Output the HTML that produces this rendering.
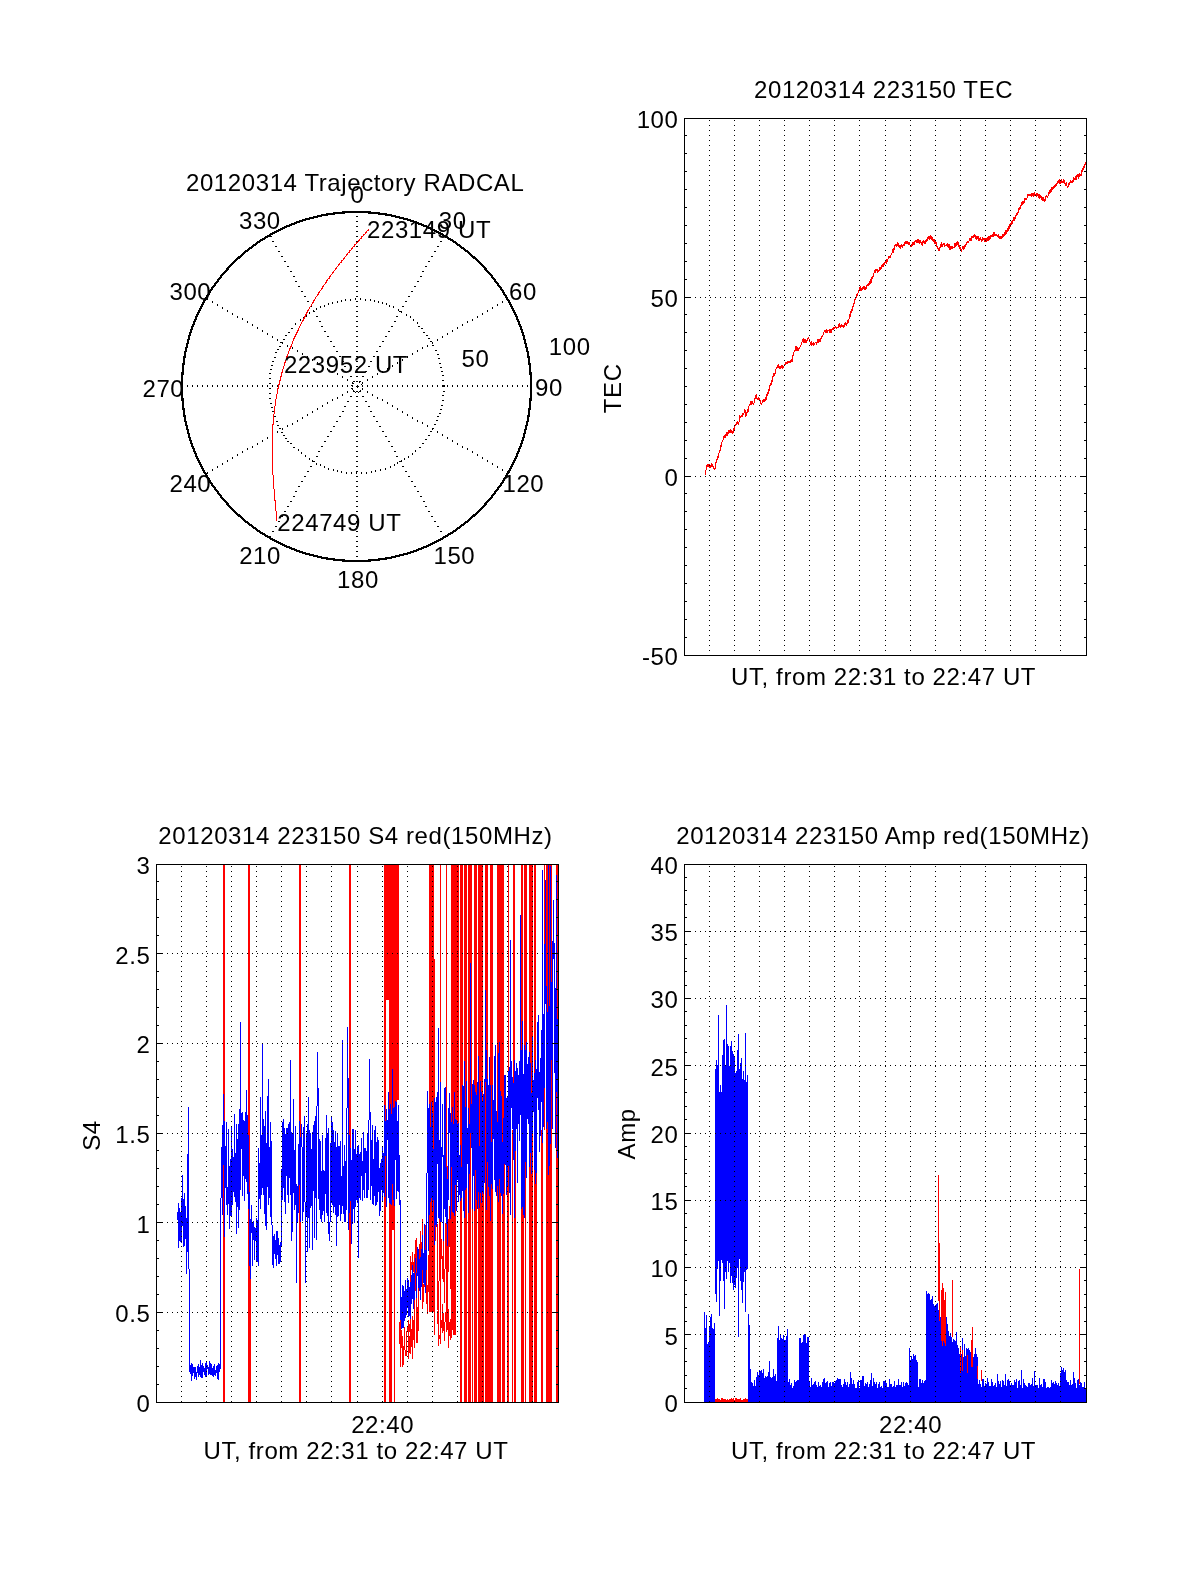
<!DOCTYPE html><html><head><meta charset="utf-8"><style>html,body{margin:0;padding:0;background:#fff;}</style></head><body><svg width="1200" height="1575" viewBox="0 0 1200 1575" style="display:block;will-change:transform;font-family:'Liberation Sans',sans-serif;font-size:24px;letter-spacing:0.6px">
<rect width="1200" height="1575" fill="#fff"/>
<path d="M181.5 372v29M182.5 363v47M183.5 356v19M183.5 398v19M184.5 351v14M184.5 408v14M185.5 347v11M185.5 415v11M186.5 343v9M186.5 421v9M187.5 339v9M187.5 385v2M187.5 425v9M188.5 335v9M188.5 429v9M189.5 332v8M189.5 433v8M190.5 329v7M190.5 437v7M191.5 326v7M191.5 440v7M192.5 324v6M192.5 385v2M192.5 443v6M193.5 321v6M193.5 446v6M194.5 319v6M194.5 448v6M195.5 316v6M195.5 451v6M196.5 314v6M196.5 453v6M197.5 312v5M197.5 385v2M197.5 456v5M198.5 310v5M198.5 458v5M199.5 308v5M199.5 460v5M200.5 306v5M200.5 462v5M201.5 304v5M201.5 464v5M202.5 302v5M202.5 385v2M202.5 466v5M203.5 300v5M203.5 468v5M204.5 299v4M204.5 470v4M205.5 297v4M205.5 472v4M206.5 295v5M206.5 473v5M207.5 294v6M207.5 385v2M207.5 472v2M207.5 475v4M208.5 292v4M208.5 477v4M209.5 290v5M209.5 478v5M210.5 289v4M210.5 480v4M211.5 287v4M211.5 482v4M212.5 286v4M212.5 301v2M212.5 385v2M212.5 469v2M212.5 483v4M213.5 285v3M213.5 485v3M214.5 283v4M214.5 486v4M215.5 282v4M215.5 487v4M216.5 281v3M216.5 489v3M217.5 279v4M217.5 304v2M217.5 385v2M217.5 466v2M217.5 490v4M218.5 278v4M218.5 491v4M219.5 277v3M219.5 493v3M220.5 275v4M220.5 494v4M221.5 274v4M221.5 495v4M222.5 273v3M222.5 307v2M222.5 385v2M222.5 463v2M222.5 497v3M223.5 272v3M223.5 498v3M224.5 271v3M224.5 499v3M225.5 270v3M225.5 500v3M226.5 268v4M226.5 501v4M227.5 267v4M227.5 310v2M227.5 385v2M227.5 460v2M227.5 502v4M228.5 266v4M228.5 503v4M229.5 265v3M229.5 505v3M230.5 264v3M230.5 506v3M231.5 263v3M231.5 507v3M232.5 262v3M232.5 313v2M232.5 385v2M232.5 457v2M232.5 508v3M233.5 261v3M233.5 509v3M234.5 260v3M234.5 510v3M235.5 259v3M235.5 511v3M236.5 258v3M236.5 512v3M237.5 257v3M237.5 316v2M237.5 385v2M237.5 454v2M237.5 513v3M238.5 256v3M238.5 514v3M239.5 256v3M239.5 514v3M240.5 255v3M240.5 515v3M241.5 254v3M241.5 516v3M242.5 253v3M242.5 318v2M242.5 385v2M242.5 451v2M242.5 517v3M243.5 252v3M243.5 518v3M244.5 251v3M244.5 519v3M245.5 250v3M245.5 520v3M246.5 250v2M246.5 521v2M247.5 249v3M247.5 321v2M247.5 385v2M247.5 448v2M247.5 521v3M248.5 248v3M248.5 522v3M249.5 247v3M249.5 523v3M250.5 247v2M250.5 524v2M251.5 246v3M251.5 524v3M252.5 245v3M252.5 324v2M252.5 385v2M252.5 446v2M252.5 525v3M253.5 244v3M253.5 526v3M254.5 244v2M254.5 527v2M255.5 243v3M255.5 527v3M256.5 242v3M256.5 528v3M257.5 241v3M257.5 327v2M257.5 385v2M257.5 443v2M257.5 529v3M258.5 241v2M258.5 530v2M259.5 240v3M259.5 530v3M260.5 239v3M260.5 531v3M261.5 239v2M261.5 532v2M262.5 238v3M262.5 330v2M262.5 385v2M262.5 440v2M262.5 532v3M263.5 238v2M263.5 533v2M264.5 237v3M264.5 533v3M265.5 236v3M265.5 534v3M266.5 236v2M266.5 535v2M267.5 235v3M267.5 333v2M267.5 385v2M267.5 437v2M267.5 535v3M268.5 235v2M268.5 536v2M269.5 234v3M269.5 373v1M269.5 378v1M269.5 383v1M269.5 388v1M269.5 393v1M269.5 398v1M269.5 536v3M270.5 233v4M270.5 369v1M270.5 373v1M270.5 378v1M270.5 383v1M270.5 388v1M270.5 393v1M270.5 398v1M270.5 403v1M270.5 536v4M271.5 233v2M271.5 236v1M271.5 365v1M271.5 369v1M271.5 403v1M271.5 407v1M271.5 538v2M272.5 232v3M272.5 241v1M272.5 336v2M272.5 361v1M272.5 365v1M272.5 385v2M272.5 407v1M272.5 411v1M272.5 434v2M272.5 531v1M272.5 538v3M273.5 232v2M273.5 241v1M273.5 361v1M273.5 411v1M273.5 531v1M273.5 539v2M274.5 231v3M274.5 357v1M274.5 416v1M274.5 539v3M275.5 231v2M275.5 246v1M275.5 352v1M275.5 357v1M275.5 416v1M275.5 526v1M275.5 540v2M276.5 230v3M276.5 246v1M276.5 352v1M276.5 421v1M276.5 526v1M276.5 540v3M277.5 230v2M277.5 339v2M277.5 349v1M277.5 385v2M277.5 421v1M277.5 425v1M277.5 431v2M277.5 541v2M278.5 229v3M278.5 251v1M278.5 349v1M278.5 425v1M278.5 521v1M278.5 541v3M279.5 229v2M279.5 251v1M279.5 346v1M279.5 428v1M279.5 521v1M279.5 542v2M280.5 228v3M280.5 342v1M280.5 346v1M280.5 428v1M280.5 542v3M281.5 228v2M281.5 256v1M281.5 342v1M281.5 432v1M281.5 516v1M281.5 543v2M282.5 227v3M282.5 256v1M282.5 342v2M282.5 385v2M282.5 428v2M282.5 432v1M282.5 516v1M282.5 543v3M283.5 227v2M283.5 339v1M283.5 435v1M283.5 544v2M284.5 226v3M284.5 261v1M284.5 339v1M284.5 435v1M284.5 511v1M284.5 544v3M285.5 226v2M285.5 261v1M285.5 335v1M285.5 438v1M285.5 511v1M285.5 545v2M286.5 225v3M286.5 335v1M286.5 438v1M286.5 545v3M287.5 225v2M287.5 266v1M287.5 345v2M287.5 385v2M287.5 425v2M287.5 441v1M287.5 506v1M287.5 546v2M288.5 225v2M288.5 266v1M288.5 332v1M288.5 441v1M288.5 506v1M288.5 546v2M289.5 224v3M289.5 332v1M289.5 546v3M290.5 224v2M290.5 271v1M290.5 443v1M290.5 501v1M290.5 547v2M291.5 223v3M291.5 271v1M291.5 328v1M291.5 443v1M291.5 501v1M291.5 547v3M292.5 223v2M292.5 328v1M292.5 347v2M292.5 385v2M292.5 423v2M292.5 548v2M293.5 223v2M293.5 276v1M293.5 447v1M293.5 496v1M293.5 548v2M294.5 222v3M294.5 276v1M294.5 447v1M294.5 496v1M294.5 548v3M295.5 222v2M295.5 281v1M295.5 323v2M295.5 491v1M295.5 549v2M296.5 221v3M296.5 281v1M296.5 491v1M296.5 549v3M297.5 221v2M297.5 350v2M297.5 385v2M297.5 420v2M297.5 550v2M298.5 221v2M298.5 286v1M298.5 449v2M298.5 486v1M298.5 550v2M299.5 220v3M299.5 286v1M299.5 486v1M299.5 550v3M300.5 220v2M300.5 319v2M300.5 551v2M301.5 220v2M301.5 291v1M301.5 452v2M301.5 481v1M301.5 551v2M302.5 219v3M302.5 291v1M302.5 353v2M302.5 385v2M302.5 417v2M302.5 481v1M302.5 551v3M303.5 219v2M303.5 317v2M303.5 552v2M304.5 219v2M304.5 296v1M304.5 476v1M304.5 552v2M305.5 218v3M305.5 296v1M305.5 455v2M305.5 476v1M305.5 552v3M306.5 218v2M306.5 315v2M306.5 553v2M307.5 218v2M307.5 301v1M307.5 356v2M307.5 385v2M307.5 414v2M307.5 471v1M307.5 553v2M308.5 218v2M308.5 301v1M308.5 471v1M308.5 553v2M309.5 217v3M309.5 312v2M309.5 458v2M309.5 553v3M310.5 217v2M310.5 306v1M310.5 466v1M310.5 554v2M311.5 217v2M311.5 306v1M311.5 466v1M311.5 554v2M312.5 217v2M312.5 359v2M312.5 385v2M312.5 411v2M312.5 460v2M312.5 554v2M313.5 216v3M313.5 310v2M313.5 461v1M313.5 554v3M314.5 216v2M314.5 311v1M314.5 461v1M314.5 555v2M315.5 216v2M315.5 555v2M316.5 216v2M316.5 308v2M316.5 316v1M316.5 456v1M316.5 463v2M316.5 555v2M317.5 215v3M317.5 316v1M317.5 362v2M317.5 385v2M317.5 408v2M317.5 456v1M317.5 555v3M318.5 215v2M318.5 451v1M318.5 556v2M319.5 215v2M319.5 321v1M319.5 451v1M319.5 556v2M320.5 215v2M320.5 306v2M320.5 321v1M320.5 464v2M320.5 556v2M321.5 214v3M321.5 326v1M321.5 446v1M321.5 556v3M322.5 214v2M322.5 326v1M322.5 365v2M322.5 385v2M322.5 405v2M322.5 446v1M322.5 557v2M323.5 214v2M323.5 557v2M324.5 214v2M324.5 305v2M324.5 331v1M324.5 441v1M324.5 466v2M324.5 557v2M325.5 214v2M325.5 331v1M325.5 441v1M325.5 557v2M326.5 213v3M326.5 557v3M327.5 213v3M327.5 336v1M327.5 368v2M327.5 385v2M327.5 402v2M327.5 436v1M327.5 557v3M328.5 213v2M328.5 303v2M328.5 336v1M328.5 436v1M328.5 468v2M328.5 558v2M329.5 213v2M329.5 558v2M330.5 213v2M330.5 341v1M330.5 431v1M330.5 558v2M331.5 213v2M331.5 341v1M331.5 431v1M331.5 558v2M332.5 213v2M332.5 302v2M332.5 371v2M332.5 385v2M332.5 399v2M332.5 558v2M333.5 212v3M333.5 346v1M333.5 426v1M333.5 469v2M333.5 558v3M334.5 212v3M334.5 346v1M334.5 426v1M334.5 558v3M335.5 212v2M335.5 559v2M336.5 212v2M336.5 351v1M336.5 421v1M336.5 559v2M337.5 212v2M337.5 301v2M337.5 351v1M337.5 373v2M337.5 385v2M337.5 397v2M337.5 421v1M337.5 470v2M337.5 559v2M338.5 212v2M338.5 559v2M339.5 212v2M339.5 356v1M339.5 416v1M339.5 559v2M340.5 212v2M340.5 356v1M340.5 416v1M340.5 559v2M341.5 212v2M341.5 300v2M341.5 471v2M341.5 559v2M342.5 211v3M342.5 361v1M342.5 376v2M342.5 385v2M342.5 394v2M342.5 411v1M342.5 559v3M343.5 211v3M343.5 361v1M343.5 411v1M343.5 559v3M344.5 211v3M344.5 366v1M344.5 406v1M344.5 559v3M345.5 211v2M345.5 299v2M345.5 366v1M345.5 406v1M345.5 560v2M346.5 211v2M346.5 472v2M346.5 560v2M347.5 211v2M347.5 371v1M347.5 379v2M347.5 385v2M347.5 391v2M347.5 401v1M347.5 560v2M348.5 211v2M348.5 371v1M348.5 401v1M348.5 560v2M349.5 211v2M349.5 560v2M350.5 211v2M350.5 299v2M350.5 376v1M350.5 396v1M350.5 560v2M351.5 211v2M351.5 376v1M351.5 385v1M351.5 388v1M351.5 396v1M351.5 472v2M351.5 560v2M352.5 211v2M352.5 382v2M352.5 385v2M352.5 388v2M352.5 560v2M353.5 211v2M353.5 381v1M353.5 383v1M353.5 390v2M353.5 560v2M354.5 211v2M354.5 381v1M354.5 391v1M354.5 560v2M355.5 211v2M355.5 298v2M355.5 392v1M355.5 560v2M356.5 211v2M356.5 216v1M356.5 221v1M356.5 226v1M356.5 231v1M356.5 236v1M356.5 241v1M356.5 246v1M356.5 251v1M356.5 256v1M356.5 261v1M356.5 266v1M356.5 271v1M356.5 276v1M356.5 281v1M356.5 286v1M356.5 291v1M356.5 296v1M356.5 301v1M356.5 306v1M356.5 311v1M356.5 316v1M356.5 321v1M356.5 326v1M356.5 331v1M356.5 336v1M356.5 341v1M356.5 346v1M356.5 351v1M356.5 356v1M356.5 361v1M356.5 366v1M356.5 371v1M356.5 376v1M356.5 381v1M356.5 386v1M356.5 391v1M356.5 396v1M356.5 401v1M356.5 406v1M356.5 411v1M356.5 416v1M356.5 421v1M356.5 426v1M356.5 431v1M356.5 436v1M356.5 441v1M356.5 446v1M356.5 451v1M356.5 456v1M356.5 461v1M356.5 466v1M356.5 471v3M356.5 476v1M356.5 481v1M356.5 486v1M356.5 491v1M356.5 496v1M356.5 501v1M356.5 506v1M356.5 511v1M356.5 516v1M356.5 521v1M356.5 526v1M356.5 531v1M356.5 536v1M356.5 541v1M356.5 546v1M356.5 551v1M356.5 556v1M356.5 560v2M357.5 211v2M357.5 216v1M357.5 221v1M357.5 226v1M357.5 231v1M357.5 236v1M357.5 241v1M357.5 246v1M357.5 251v1M357.5 256v1M357.5 261v1M357.5 266v1M357.5 271v1M357.5 276v1M357.5 281v1M357.5 286v1M357.5 291v1M357.5 296v1M357.5 301v1M357.5 306v1M357.5 311v1M357.5 316v1M357.5 321v1M357.5 326v1M357.5 331v1M357.5 336v1M357.5 341v1M357.5 346v1M357.5 351v1M357.5 356v1M357.5 361v1M357.5 366v1M357.5 371v1M357.5 376v1M357.5 381v1M357.5 385v3M357.5 391v1M357.5 396v1M357.5 401v1M357.5 406v1M357.5 411v1M357.5 416v1M357.5 421v1M357.5 426v1M357.5 431v1M357.5 436v1M357.5 441v1M357.5 446v1M357.5 451v1M357.5 456v1M357.5 461v1M357.5 466v1M357.5 471v1M357.5 476v1M357.5 481v1M357.5 486v1M357.5 491v1M357.5 496v1M357.5 501v1M357.5 506v1M357.5 511v1M357.5 516v1M357.5 521v1M357.5 526v1M357.5 531v1M357.5 536v1M357.5 541v1M357.5 546v1M357.5 551v1M357.5 556v1M357.5 560v2M358.5 211v2M358.5 386v1M358.5 392v1M358.5 560v2M359.5 211v2M359.5 381v2M359.5 391v1M359.5 560v2M360.5 211v2M360.5 298v2M360.5 381v1M360.5 390v2M360.5 560v2M361.5 211v2M361.5 384v1M361.5 472v2M361.5 560v2M362.5 211v2M362.5 376v1M362.5 382v2M362.5 385v2M362.5 388v2M362.5 396v1M362.5 560v2M363.5 211v2M363.5 376v1M363.5 396v1M363.5 560v2M364.5 211v2M364.5 560v2M365.5 211v2M365.5 299v2M365.5 371v1M365.5 401v1M365.5 560v2M366.5 211v2M366.5 371v1M366.5 401v1M366.5 472v2M366.5 560v2M367.5 211v2M367.5 379v2M367.5 385v2M367.5 391v2M367.5 560v2M368.5 211v3M368.5 366v1M368.5 406v1M368.5 559v3M369.5 211v3M369.5 366v1M369.5 406v1M369.5 559v3M370.5 211v3M370.5 299v2M370.5 361v1M370.5 411v1M370.5 559v3M371.5 212v2M371.5 361v1M371.5 411v1M371.5 471v2M371.5 559v2M372.5 212v2M372.5 376v2M372.5 385v2M372.5 394v2M372.5 559v2M373.5 212v2M373.5 356v1M373.5 416v1M373.5 559v2M374.5 212v2M374.5 300v2M374.5 356v1M374.5 416v1M374.5 559v2M375.5 212v2M375.5 470v2M375.5 559v2M376.5 212v2M376.5 351v1M376.5 421v1M376.5 559v2M377.5 212v2M377.5 351v1M377.5 373v2M377.5 385v2M377.5 397v2M377.5 421v1M377.5 559v2M378.5 212v3M378.5 301v2M378.5 558v3M379.5 212v3M379.5 346v1M379.5 426v1M379.5 558v3M380.5 213v2M380.5 346v1M380.5 426v1M380.5 469v2M380.5 558v2M381.5 213v2M381.5 558v2M382.5 213v2M382.5 302v2M382.5 341v1M382.5 371v2M382.5 385v2M382.5 399v2M382.5 431v1M382.5 558v2M383.5 213v2M383.5 341v1M383.5 431v1M383.5 558v2M384.5 213v2M384.5 558v2M385.5 213v3M385.5 336v1M385.5 436v1M385.5 468v2M385.5 557v3M386.5 213v3M386.5 303v2M386.5 336v1M386.5 436v1M386.5 557v3M387.5 214v2M387.5 368v2M387.5 385v2M387.5 402v2M387.5 557v2M388.5 214v2M388.5 331v1M388.5 441v1M388.5 557v2M389.5 214v2M389.5 305v2M389.5 331v1M389.5 441v1M389.5 557v2M390.5 214v2M390.5 466v2M390.5 557v2M391.5 214v3M391.5 326v1M391.5 446v1M391.5 556v3M392.5 215v2M392.5 326v1M392.5 365v2M392.5 385v2M392.5 405v2M392.5 446v1M392.5 556v2M393.5 215v2M393.5 306v2M393.5 556v2M394.5 215v2M394.5 321v1M394.5 451v1M394.5 464v2M394.5 556v2M395.5 215v3M395.5 321v1M395.5 451v1M395.5 555v3M396.5 216v2M396.5 316v1M396.5 456v1M396.5 555v2M397.5 216v2M397.5 316v1M397.5 362v2M397.5 385v2M397.5 408v2M397.5 456v1M397.5 462v2M397.5 555v2M398.5 216v2M398.5 309v2M398.5 555v2M399.5 216v3M399.5 311v1M399.5 461v1M399.5 554v3M400.5 217v2M400.5 311v1M400.5 461v1M400.5 554v2M401.5 217v2M401.5 311v2M401.5 460v2M401.5 554v2M402.5 217v2M402.5 306v1M402.5 359v2M402.5 385v2M402.5 411v2M402.5 466v1M402.5 554v2M403.5 217v3M403.5 306v1M403.5 466v1M403.5 553v3M404.5 218v2M404.5 458v2M404.5 553v2M405.5 218v2M405.5 301v1M405.5 471v1M405.5 553v2M406.5 218v2M406.5 301v1M406.5 314v2M406.5 471v1M406.5 553v2M407.5 218v3M407.5 356v2M407.5 385v2M407.5 414v2M407.5 552v3M408.5 219v2M408.5 296v1M408.5 456v2M408.5 476v1M408.5 552v2M409.5 219v2M409.5 296v1M409.5 476v1M409.5 552v2M410.5 219v3M410.5 316v2M410.5 551v3M411.5 220v2M411.5 291v1M411.5 481v1M411.5 551v2M412.5 220v2M412.5 291v1M412.5 353v2M412.5 385v2M412.5 417v2M412.5 453v2M412.5 481v1M412.5 551v2M413.5 220v3M413.5 319v2M413.5 550v3M414.5 221v2M414.5 286v1M414.5 486v1M414.5 550v2M415.5 221v2M415.5 286v1M415.5 450v2M415.5 486v1M415.5 550v2M416.5 221v3M416.5 549v3M417.5 222v2M417.5 281v1M417.5 322v2M417.5 350v2M417.5 385v2M417.5 420v2M417.5 491v1M417.5 549v2M418.5 222v3M418.5 281v1M418.5 326v1M418.5 491v1M418.5 548v3M419.5 223v2M419.5 326v1M419.5 447v1M419.5 548v2M420.5 223v2M420.5 276v1M420.5 447v1M420.5 496v1M420.5 548v2M421.5 223v3M421.5 276v1M421.5 328v1M421.5 496v1M421.5 547v3M422.5 224v2M422.5 271v1M422.5 328v1M422.5 347v2M422.5 385v2M422.5 422v2M422.5 443v1M422.5 547v2M423.5 224v3M423.5 271v1M423.5 332v1M423.5 443v1M423.5 501v1M423.5 546v3M424.5 225v2M424.5 332v1M424.5 501v1M424.5 546v2M425.5 225v2M425.5 266v1M425.5 439v1M425.5 506v1M425.5 546v2M426.5 225v3M426.5 266v1M426.5 335v1M426.5 439v1M426.5 506v1M426.5 545v3M427.5 226v2M427.5 335v1M427.5 345v2M427.5 385v2M427.5 425v2M427.5 545v2M428.5 226v3M428.5 261v1M428.5 338v1M428.5 435v1M428.5 511v1M428.5 544v3M429.5 227v2M429.5 261v1M429.5 338v1M429.5 435v1M429.5 511v1M429.5 544v2M430.5 227v3M430.5 341v1M430.5 431v1M430.5 543v3M431.5 228v2M431.5 256v1M431.5 341v1M431.5 431v1M431.5 516v1M431.5 543v2M432.5 228v3M432.5 256v1M432.5 342v2M432.5 345v1M432.5 385v2M432.5 428v2M432.5 516v1M432.5 542v3M433.5 229v2M433.5 345v1M433.5 428v1M433.5 542v2M434.5 229v3M434.5 251v1M434.5 424v1M434.5 521v1M434.5 541v3M435.5 230v2M435.5 251v1M435.5 350v1M435.5 424v1M435.5 521v1M435.5 541v2M436.5 230v3M436.5 350v1M436.5 420v1M436.5 540v3M437.5 231v2M437.5 246v1M437.5 339v2M437.5 354v1M437.5 385v2M437.5 416v1M437.5 420v1M437.5 431v2M437.5 526v1M437.5 540v2M438.5 231v3M438.5 246v1M438.5 354v1M438.5 358v1M438.5 416v1M438.5 526v1M438.5 539v3M439.5 232v2M439.5 358v1M439.5 363v1M439.5 413v1M439.5 539v2M440.5 232v3M440.5 241v1M440.5 363v1M440.5 367v1M440.5 409v1M440.5 413v1M440.5 531v1M440.5 538v3M441.5 233v2M441.5 241v1M441.5 367v1M441.5 371v1M441.5 405v1M441.5 409v1M441.5 531v1M441.5 538v2M442.5 233v3M442.5 336v2M442.5 371v1M442.5 375v1M442.5 380v1M442.5 385v2M442.5 395v1M442.5 400v1M442.5 405v1M442.5 434v2M442.5 537v3M443.5 234v3M443.5 375v1M443.5 380v1M443.5 385v2M443.5 391v1M443.5 395v1M443.5 400v1M443.5 536v3M444.5 235v2M444.5 385v2M444.5 391v1M444.5 536v2M445.5 235v3M445.5 535v3M446.5 236v2M446.5 535v2M447.5 236v3M447.5 333v2M447.5 385v2M447.5 437v2M447.5 534v3M448.5 237v3M448.5 533v3M449.5 238v2M449.5 533v2M450.5 238v3M450.5 532v3M451.5 239v2M451.5 532v2M452.5 239v3M452.5 330v2M452.5 385v2M452.5 440v2M452.5 531v3M453.5 240v3M453.5 530v3M454.5 241v2M454.5 530v2M455.5 241v3M455.5 529v3M456.5 242v3M456.5 528v3M457.5 243v3M457.5 327v2M457.5 385v2M457.5 443v2M457.5 527v3M458.5 244v2M458.5 527v2M459.5 244v3M459.5 526v3M460.5 245v3M460.5 525v3M461.5 246v3M461.5 524v3M462.5 247v2M462.5 324v2M462.5 385v2M462.5 446v2M462.5 524v2M463.5 247v3M463.5 523v3M464.5 248v3M464.5 522v3M465.5 249v3M465.5 521v3M466.5 250v2M466.5 521v2M467.5 250v3M467.5 321v2M467.5 385v2M467.5 448v2M467.5 520v3M468.5 251v3M468.5 519v3M469.5 252v3M469.5 518v3M470.5 253v3M470.5 517v3M471.5 254v3M471.5 516v3M472.5 255v3M472.5 319v2M472.5 385v2M472.5 451v2M472.5 515v3M473.5 256v3M473.5 514v3M474.5 256v3M474.5 514v3M475.5 257v3M475.5 513v3M476.5 258v3M476.5 512v3M477.5 259v3M477.5 316v2M477.5 385v2M477.5 454v2M477.5 511v3M478.5 260v3M478.5 510v3M479.5 261v3M479.5 509v3M480.5 262v3M480.5 508v3M481.5 263v3M481.5 507v3M482.5 264v3M482.5 313v2M482.5 385v2M482.5 457v2M482.5 506v3M483.5 265v3M483.5 505v3M484.5 266v4M484.5 503v4M485.5 267v4M485.5 502v4M486.5 268v4M486.5 501v4M487.5 270v3M487.5 310v2M487.5 385v2M487.5 460v2M487.5 500v3M488.5 271v3M488.5 499v3M489.5 272v3M489.5 498v3M490.5 273v3M490.5 497v3M491.5 274v4M491.5 495v4M492.5 275v4M492.5 307v2M492.5 385v2M492.5 463v2M492.5 494v4M493.5 277v3M493.5 493v3M494.5 278v4M494.5 491v4M495.5 279v4M495.5 490v4M496.5 281v3M496.5 489v3M497.5 282v4M497.5 304v2M497.5 385v2M497.5 466v2M497.5 487v4M498.5 283v4M498.5 486v4M499.5 285v3M499.5 485v3M500.5 286v4M500.5 483v4M501.5 287v4M501.5 482v4M502.5 289v4M502.5 301v2M502.5 385v2M502.5 469v2M502.5 480v4M503.5 290v5M503.5 478v5M504.5 292v4M504.5 477v4M505.5 294v4M505.5 475v4M506.5 295v5M506.5 473v5M507.5 297v4M507.5 385v2M507.5 471v5M508.5 299v4M508.5 470v4M509.5 300v5M509.5 468v5M510.5 302v5M510.5 466v5M511.5 304v5M511.5 464v5M512.5 306v5M512.5 385v2M512.5 462v5M513.5 308v5M513.5 460v5M514.5 310v5M514.5 458v5M515.5 312v5M515.5 456v5M516.5 314v6M516.5 453v6M517.5 316v6M517.5 385v2M517.5 451v6M518.5 319v6M518.5 448v6M519.5 321v6M519.5 446v6M520.5 324v6M520.5 443v6M521.5 326v7M521.5 440v7M522.5 329v7M522.5 385v2M522.5 437v7M523.5 332v8M523.5 433v8M524.5 335v9M524.5 429v9M525.5 339v9M525.5 425v9M526.5 343v9M526.5 421v9M527.5 347v11M527.5 385v2M527.5 415v11M528.5 351v14M528.5 408v14M529.5 356v19M529.5 398v19M530.5 363v47M531.5 372v29" stroke="#000" stroke-width="1" fill="none" shape-rendering="crispEdges"/>
<path d="M272.5 424v51M273.5 414v11M273.5 475v14M274.5 406v8M274.5 489v12M275.5 399v7M275.5 500v11M276.5 394v5M276.5 511v10M277.5 388v6M278.5 384v5M279.5 380v5M280.5 376v5M281.5 372v5M282.5 369v4M283.5 366v3M284.5 362v4M285.5 360v3M286.5 356v4M287.5 354v3M288.5 351v3M289.5 348v3M290.5 346v3M291.5 344v3M292.5 341v3M293.5 338v3M294.5 336v3M295.5 334v3M296.5 332v3M297.5 330v3M298.5 328v3M299.5 326v2M300.5 324v2M301.5 322v2M302.5 320v2M303.5 318v3M304.5 316v3M305.5 314v3M306.5 312v3M307.5 310v3M308.5 309v2M309.5 307v2M310.5 306v1M311.5 304v2M312.5 302v2M313.5 300v3M314.5 299v2M315.5 297v2M316.5 296v1M317.5 294v2M318.5 292v3M319.5 291v2M320.5 290v1M321.5 288v2M322.5 286v3M323.5 285v2M324.5 284v1M325.5 282v2M326.5 280v3M327.5 279v2M328.5 278v1M329.5 276v3M330.5 275v2M331.5 274v1M332.5 272v2M333.5 271v2M334.5 270v1M335.5 268v2M336.5 267v2M337.5 266v1M338.5 264v2M339.5 263v2M340.5 262v1M341.5 260v3M342.5 260v1M343.5 258v2M344.5 257v2M345.5 256v1M346.5 254v2M347.5 253v2M348.5 252v1M349.5 250v3M350.5 250v1M351.5 248v2M352.5 247v2M353.5 246v1M354.5 244v3M355.5 244v1M356.5 242v2M357.5 242v1M358.5 240v2M359.5 239v2M360.5 238v1M361.5 236v3M362.5 236v1M363.5 234v2M364.5 234v1M365.5 232v2M366.5 231v2M367.5 230v1M368.5 229v2" stroke="#f00" stroke-width="1" fill="none" shape-rendering="crispEdges"/>
<g fill="#000">
<text x="355.2" y="190.7" text-anchor="middle">20120314 Trajectory RADCAL</text>
<text x="357.4" y="202.9" text-anchor="middle">0</text>
<text x="259.9" y="228.6" text-anchor="middle">330</text>
<text x="452.7" y="229.0" text-anchor="middle">30</text>
<text x="190.4" y="299.9" text-anchor="middle">300</text>
<text x="523.0" y="300.0" text-anchor="middle">60</text>
<text x="569.7" y="355.3" text-anchor="middle">100</text>
<text x="475.4" y="366.8" text-anchor="middle">50</text>
<text x="163.4" y="396.5" text-anchor="middle">270</text>
<text x="549.0" y="395.7" text-anchor="middle">90</text>
<text x="190.4" y="491.6" text-anchor="middle">240</text>
<text x="523.4" y="491.6" text-anchor="middle">120</text>
<text x="260.1" y="563.5" text-anchor="middle">210</text>
<text x="454.4" y="563.5" text-anchor="middle">150</text>
<text x="358.0" y="587.9" text-anchor="middle">180</text>
<text x="429.1" y="237.9" text-anchor="middle">223149 UT</text>
<text x="346.0" y="372.5" text-anchor="middle">223952 UT</text>
<text x="339.4" y="530.9" text-anchor="middle">224749 UT</text>
</g>
<path d="M705.5 470v5M706.5 465v5M707.5 464v3M708.5 464v3M709.5 464v4M710.5 465v3M711.5 463v4M712.5 464v3M713.5 466v3M714.5 468v2M715.5 462v7M716.5 459v4M717.5 456v4M718.5 453v5M719.5 450v3M720.5 445v6M721.5 442v5M722.5 440v2M723.5 436v4M724.5 435v3M725.5 434v4M726.5 432v4M727.5 432v4M728.5 430v4M729.5 430v3M730.5 429v4M731.5 430v3M732.5 431v3M733.5 428v5M734.5 426v4M735.5 424v2M736.5 422v3M737.5 421v3M738.5 422v3M739.5 415v7M740.5 416v2M741.5 415v2M742.5 413v4M743.5 413v2M744.5 409v4M745.5 410v7M746.5 412v4M747.5 409v4M748.5 406v6M749.5 404v2M750.5 401v4M751.5 401v4M752.5 401v3M753.5 403v2M754.5 398v5M755.5 395v4M756.5 394v5M757.5 398v2M758.5 397v3M759.5 398v2M760.5 400v4M761.5 403v2M762.5 400v3M763.5 399v3M764.5 399v3M765.5 397v4M766.5 394v6M767.5 392v4M768.5 389v5M769.5 385v6M770.5 383v3M771.5 380v5M772.5 376v6M773.5 373v4M774.5 373v3M775.5 369v5M776.5 367v2M777.5 365v3M778.5 364v4M779.5 366v3M780.5 366v3M781.5 365v3M782.5 365v4M783.5 366v2M784.5 364v2M785.5 362v3M786.5 362v2M787.5 361v3M788.5 361v2M789.5 361v2M790.5 360v3M791.5 359v3M792.5 355v7M793.5 352v4M794.5 350v2M795.5 346v5M796.5 346v5M797.5 347v4M798.5 348v3M799.5 347v2M800.5 345v2M801.5 342v3M802.5 339v3M803.5 338v5M804.5 339v4M805.5 339v4M806.5 340v3M807.5 338v3M808.5 337v2M809.5 339v3M810.5 342v3M811.5 341v5M812.5 343v2M813.5 342v4M814.5 343v2M815.5 342v1M816.5 342v3M817.5 339v4M818.5 339v4M819.5 339v3M820.5 338v4M821.5 336v3M822.5 335v2M823.5 332v3M824.5 330v2M825.5 330v3M826.5 329v4M827.5 330v3M828.5 330v1M829.5 329v4M830.5 329v4M831.5 329v4M832.5 328v2M833.5 327v3M834.5 327v2M835.5 326v2M836.5 327v2M837.5 327v1M838.5 324v4M839.5 323v4M840.5 325v3M841.5 324v3M842.5 325v2M843.5 325v3M844.5 323v4M845.5 322v3M846.5 323v3M847.5 320v4M848.5 319v4M849.5 314v5M850.5 311v6M851.5 309v4M852.5 306v5M853.5 303v4M854.5 299v5M855.5 297v3M856.5 294v4M857.5 293v3M858.5 290v3M859.5 287v4M860.5 286v5M861.5 288v3M862.5 287v3M863.5 286v3M864.5 286v4M865.5 287v3M866.5 285v4M867.5 284v2M868.5 283v3M869.5 281v4M870.5 279v5M871.5 277v6M872.5 276v3M873.5 273v4M874.5 270v3M875.5 269v4M876.5 269v2M877.5 269v4M878.5 270v2M879.5 267v4M880.5 267v3M881.5 265v4M882.5 264v3M883.5 263v4M884.5 262v3M885.5 260v3M886.5 259v5M887.5 259v3M888.5 256v3M889.5 256v2M890.5 255v3M891.5 253v2M892.5 249v4M893.5 248v5M894.5 245v5M895.5 244v2M896.5 244v3M897.5 242v4M898.5 243v4M899.5 245v3M900.5 245v4M901.5 244v3M902.5 245v3M903.5 244v2M904.5 242v4M905.5 241v3M906.5 241v3M907.5 241v3M908.5 242v3M909.5 242v3M910.5 245v2M911.5 244v3M912.5 242v4M913.5 242v3M914.5 241v4M915.5 240v2M916.5 240v3M917.5 239v4M918.5 239v4M919.5 240v4M920.5 240v3M921.5 242v3M922.5 241v5M923.5 240v3M924.5 241v3M925.5 240v4M926.5 239v3M927.5 237v4M928.5 236v3M929.5 236v4M930.5 235v4M931.5 236v4M932.5 237v4M933.5 239v3M934.5 239v5M935.5 241v3M936.5 242v5M937.5 246v3M938.5 248v3M939.5 247v4M940.5 244v4M941.5 242v5M942.5 244v3M943.5 243v2M944.5 243v4M945.5 245v1M946.5 244v2M947.5 243v4M948.5 244v4M949.5 244v6M950.5 246v4M951.5 246v3M952.5 246v3M953.5 247v1M954.5 243v5M955.5 243v4M956.5 242v4M957.5 241v4M958.5 242v5M959.5 245v4M960.5 247v4M961.5 249v3M962.5 246v3M963.5 246v4M964.5 245v4M965.5 244v3M966.5 242v3M967.5 241v2M968.5 241v2M969.5 238v3M970.5 238v3M971.5 236v5M972.5 236v2M973.5 235v3M974.5 234v3M975.5 235v4M976.5 236v4M977.5 236v3M978.5 236v5M979.5 238v3M980.5 237v3M981.5 239v3M982.5 237v4M983.5 238v2M984.5 238v4M985.5 238v4M986.5 238v4M987.5 237v4M988.5 236v5M989.5 236v4M990.5 235v4M991.5 235v2M992.5 234v3M993.5 232v5M994.5 232v4M995.5 234v2M996.5 234v2M997.5 235v2M998.5 234v4M999.5 236v3M1000.5 236v3M1001.5 236v3M1002.5 234v4M1003.5 234v3M1004.5 232v4M1005.5 230v5M1006.5 230v4M1007.5 228v4M1008.5 226v5M1009.5 224v5M1010.5 223v4M1011.5 221v4M1012.5 220v4M1013.5 217v4M1014.5 217v4M1015.5 215v4M1016.5 213v3M1017.5 212v3M1018.5 208v5M1019.5 207v3M1020.5 205v4M1021.5 202v4M1022.5 201v4M1023.5 201v3M1024.5 198v5M1025.5 198v2M1026.5 198v2M1027.5 194v4M1028.5 194v2M1029.5 194v2M1030.5 194v2M1031.5 193v4M1032.5 193v3M1033.5 193v4M1034.5 192v4M1035.5 194v2M1036.5 193v4M1037.5 193v3M1038.5 194v4M1039.5 194v5M1040.5 195v3M1041.5 196v4M1042.5 197v4M1043.5 197v4M1044.5 199v3M1045.5 196v5M1046.5 195v2M1047.5 196v2M1048.5 192v4M1049.5 190v4M1050.5 189v4M1051.5 187v5M1052.5 187v3M1053.5 186v3M1054.5 185v3M1055.5 184v3M1056.5 183v3M1057.5 181v3M1058.5 180v3M1059.5 179v5M1060.5 180v4M1061.5 179v4M1062.5 181v2M1063.5 179v4M1064.5 180v4M1065.5 183v3M1066.5 182v4M1067.5 186v2M1068.5 183v4M1069.5 182v3M1070.5 180v3M1071.5 181v2M1072.5 180v3M1073.5 177v5M1074.5 178v2M1075.5 176v4M1076.5 175v5M1077.5 174v3M1078.5 174v5M1079.5 173v4M1080.5 174v2M1081.5 170v6M1082.5 168v4M1083.5 166v4M1084.5 164v4M1085.5 162v3" stroke="#f00" stroke-width="1" fill="none" shape-rendering="crispEdges"/>
<path d="M709.5 120V655" stroke="#000" stroke-dasharray="1 4" stroke-dashoffset="0" shape-rendering="crispEdges"/>
<path d="M734.5 120V655" stroke="#000" stroke-dasharray="1 4" stroke-dashoffset="0" shape-rendering="crispEdges"/>
<path d="M759.5 120V655" stroke="#000" stroke-dasharray="1 4" stroke-dashoffset="0" shape-rendering="crispEdges"/>
<path d="M784.5 120V655" stroke="#000" stroke-dasharray="1 4" stroke-dashoffset="0" shape-rendering="crispEdges"/>
<path d="M809.5 120V655" stroke="#000" stroke-dasharray="1 4" stroke-dashoffset="0" shape-rendering="crispEdges"/>
<path d="M834.5 120V655" stroke="#000" stroke-dasharray="1 4" stroke-dashoffset="0" shape-rendering="crispEdges"/>
<path d="M859.5 120V655" stroke="#000" stroke-dasharray="1 4" stroke-dashoffset="0" shape-rendering="crispEdges"/>
<path d="M885.5 120V655" stroke="#000" stroke-dasharray="1 4" stroke-dashoffset="0" shape-rendering="crispEdges"/>
<path d="M910.5 120V655" stroke="#000" stroke-dasharray="1 4" stroke-dashoffset="0" shape-rendering="crispEdges"/>
<path d="M935.5 120V655" stroke="#000" stroke-dasharray="1 4" stroke-dashoffset="0" shape-rendering="crispEdges"/>
<path d="M960.5 120V655" stroke="#000" stroke-dasharray="1 4" stroke-dashoffset="0" shape-rendering="crispEdges"/>
<path d="M985.5 120V655" stroke="#000" stroke-dasharray="1 4" stroke-dashoffset="0" shape-rendering="crispEdges"/>
<path d="M1010.5 120V655" stroke="#000" stroke-dasharray="1 4" stroke-dashoffset="0" shape-rendering="crispEdges"/>
<path d="M1035.5 120V655" stroke="#000" stroke-dasharray="1 4" stroke-dashoffset="0" shape-rendering="crispEdges"/>
<path d="M1060.5 120V655" stroke="#000" stroke-dasharray="1 4" stroke-dashoffset="0" shape-rendering="crispEdges"/>
<path d="M695 297.5H1082" stroke="#000" stroke-dasharray="1 4" stroke-dashoffset="0" shape-rendering="crispEdges"/>
<path d="M695 476.5H1082" stroke="#000" stroke-dasharray="1 4" stroke-dashoffset="0" shape-rendering="crispEdges"/>
<path d="M684 297.5h7M1087 297.5h-7M684 476.5h7M1087 476.5h-7M684 135.5h3M1087 135.5h-3M684 153.5h3M1087 153.5h-3M684 171.5h3M1087 171.5h-3M684 189.5h3M1087 189.5h-3M684 207.5h3M1087 207.5h-3M684 225.5h3M1087 225.5h-3M684 243.5h3M1087 243.5h-3M684 261.5h3M1087 261.5h-3M684 279.5h3M1087 279.5h-3M684 297.5h3M1087 297.5h-3M684 314.5h3M1087 314.5h-3M684 332.5h3M1087 332.5h-3M684 350.5h3M1087 350.5h-3M684 368.5h3M1087 368.5h-3M684 386.5h3M1087 386.5h-3M684 404.5h3M1087 404.5h-3M684 422.5h3M1087 422.5h-3M684 440.5h3M1087 440.5h-3M684 458.5h3M1087 458.5h-3M684 476.5h3M1087 476.5h-3M684 493.5h3M1087 493.5h-3M684 511.5h3M1087 511.5h-3M684 529.5h3M1087 529.5h-3M684 547.5h3M1087 547.5h-3M684 565.5h3M1087 565.5h-3M684 583.5h3M1087 583.5h-3M684 601.5h3M1087 601.5h-3M684 619.5h3M1087 619.5h-3M684 637.5h3M1087 637.5h-3M684.5 118V656M1086.5 118V656M684 118.5H1087M684 655.5H1087" stroke="#000" stroke-width="1" fill="none" shape-rendering="crispEdges"/>
<g fill="#000">
<text x="883.6" y="97.8" text-anchor="middle">20120314 223150 TEC</text>
<text x="678.5" y="665.4" text-anchor="end">-50</text>
<text x="678.5" y="486.4" text-anchor="end">0</text>
<text x="678.5" y="307.4" text-anchor="end">50</text>
<text x="678.5" y="128.4" text-anchor="end">100</text>
<text x="0" y="0" text-anchor="middle" transform="translate(620.5,388.3) rotate(-90)">TEC</text>
<text x="883.6" y="684.7" text-anchor="middle">UT, from 22:31 to 22:47 UT</text>
</g>
<path d="M223.5 865v537M224.5 865v537M248.5 865v537M249.5 865v537M250.5 1265v137M299.5 865v537M300.5 865v537M349.5 865v537M350.5 865v537M384.5 865v537M385.5 865v537M386.5 865v135M387.5 865v135M388.5 865v135M389.5 865v537M390.5 865v537M391.5 865v537M392.5 865v365M393.5 865v365M394.5 865v537M395.5 865v285M396.5 865v285M397.5 865v235M398.5 865v235M399.5 1322v22M400.5 1318v49M401.5 1330v18M402.5 1336v31M403.5 1346v19M404.5 1327v23M405.5 1350v6M406.5 1331v25M407.5 1326v5M408.5 1320v39M409.5 1324v8M409.5 1336v17M410.5 1256v98M411.5 1262v8M411.5 1329v18M412.5 1252v46M412.5 1316v43M413.5 1262v10M413.5 1320v20M414.5 1254v94M415.5 1240v51M416.5 1238v105M417.5 1307v36M418.5 1259v72M419.5 1244v26M420.5 1231v66M421.5 1242v22M422.5 1219v90M423.5 1284v18M424.5 1245v42M425.5 1225v27M426.5 1252v52M427.5 1285v29M428.5 1255v37M429.5 865v447M430.5 865v447M431.5 865v447M432.5 865v447M433.5 865v447M434.5 959v376M435.5 1128v113M436.5 1155v69M437.5 1224v86M437.5 1311v13M438.5 1281v65M439.5 1142v139M439.5 1335v4M440.5 865v479M441.5 1239v20M441.5 1320v8M442.5 1256v23M442.5 1304v29M443.5 1233v49M443.5 1313v18M444.5 1269v34M444.5 1322v19M445.5 1223v46M445.5 1312v10M446.5 865v467M447.5 1166v164M448.5 1219v53M448.5 1309v39M449.5 1206v41M449.5 1322v14M450.5 1218v71M450.5 1319v21M451.5 865v473M452.5 865v465M453.5 865v470M454.5 865v470M455.5 865v470M456.5 865v265M457.5 865v265M458.5 865v265M460.5 865v537M461.5 865v537M462.5 865v265M464.5 865v537M465.5 865v537M466.5 865v537M468.5 865v537M469.5 865v537M470.5 865v537M471.5 865v265M472.5 1130v272M474.5 865v537M475.5 865v537M476.5 865v537M478.5 865v537M479.5 865v537M480.5 865v537M481.5 865v537M482.5 865v537M483.5 1130v272M485.5 865v537M486.5 865v537M487.5 865v537M488.5 1130v272M489.5 1130v272M490.5 865v537M491.5 865v537M492.5 865v537M497.5 865v537M498.5 865v537M499.5 865v537M500.5 865v537M501.5 865v265M502.5 865v537M503.5 865v537M504.5 1130v272M507.5 1130v272M508.5 865v537M512.5 1130v272M513.5 865v265M514.5 865v537M515.5 1130v272M521.5 865v537M522.5 865v537M523.5 1130v272M524.5 865v265M525.5 865v537M526.5 865v265M529.5 865v537M530.5 865v537M531.5 865v537M532.5 865v537M534.5 865v537M535.5 865v537M536.5 1130v272M541.5 1130v272M542.5 1130v272M544.5 865v265M546.5 865v537M547.5 865v537M548.5 865v537M549.5 865v537M550.5 865v537M551.5 865v537M556.5 865v537M557.5 865v537" stroke="#f00" stroke-width="1" fill="none" shape-rendering="crispEdges"/>
<path d="M177.5 1212v8M178.5 1203v45M179.5 1208v33M180.5 1212v30M181.5 1198v45M182.5 1175v51M183.5 1199v48M184.5 1193v53M185.5 1206v33M186.5 1218v56M187.5 1154v98M188.5 1107v162M189.5 1269v103M190.5 1365v9M191.5 1363v18M192.5 1364v12M193.5 1367v6M194.5 1367v12M195.5 1367v10M196.5 1372v8M197.5 1366v7M198.5 1364v13M199.5 1367v8M200.5 1360v17M201.5 1365v13M202.5 1363v15M203.5 1366v6M204.5 1368v7M205.5 1363v14M206.5 1362v14M207.5 1365v4M208.5 1367v8M209.5 1361v13M210.5 1363v12M211.5 1364v11M212.5 1368v8M213.5 1366v11M214.5 1364v11M215.5 1370v6M216.5 1366v7M217.5 1365v14M218.5 1363v17M219.5 1364v8M220.5 1198v171M221.5 1147v51M222.5 1125v90M223.5 1094v71M224.5 1121v116M225.5 1146v42M226.5 1122v83M227.5 1187v28M228.5 1129v75M229.5 1166v63M230.5 1159v57M231.5 1127v89M232.5 1149v56M233.5 1157v35M234.5 1114v83M235.5 1153v49M236.5 1124v110M237.5 1139v68M238.5 1124v104M239.5 1109v101M240.5 1022v168M241.5 1113v36M242.5 1112v84M243.5 1120v56M244.5 1121v80M245.5 1112v67M246.5 1090v92M247.5 1115v79M248.5 1135v74M249.5 1192v74M250.5 1219v60M251.5 1205v28M252.5 1223v43M253.5 1221v19M254.5 1227v33M255.5 1228v13M256.5 1218v43M257.5 1220v42M258.5 1148v118M259.5 1163v36M260.5 1097v112M261.5 1135v60M262.5 1043v145M263.5 1119v76M264.5 1126v88M265.5 1111v115M266.5 1143v87M267.5 1096v91M268.5 1079v126M269.5 1147v51M270.5 1122v95M271.5 1141v84M272.5 1225v40M273.5 1236v32M274.5 1234v20M275.5 1240v19M276.5 1231v35M277.5 1231v24M278.5 1238v26M279.5 1245v19M280.5 1242v20M281.5 1169v77M282.5 1122v78M283.5 1119v69M284.5 1128v74M285.5 1134v80M286.5 1128v48M287.5 1128v67M288.5 1124v79M289.5 1122v56M290.5 1060v135M291.5 1132v109M292.5 1134v98M293.5 1099v94M294.5 1150v60M295.5 1126v79M296.5 1184v99M297.5 1186v37M298.5 1144v69M299.5 1121v64M300.5 1137v85M301.5 1124v23M302.5 1147v74M303.5 1127v85M304.5 1116v86M305.5 1202v81M306.5 1133v83M307.5 1124v128M308.5 1097v121M309.5 1130v118M310.5 1133v75M311.5 1149v57M312.5 1132v118M313.5 1125v66M314.5 1121v117M315.5 1116v82M316.5 1106v134M317.5 1052v54M318.5 1088v111M319.5 1139v71M320.5 1141v78M321.5 1171v51M322.5 1135v80M323.5 1170v41M324.5 1171v51M325.5 1138v56M326.5 1115v98M327.5 1133v83M328.5 1128v106M329.5 1222v19M330.5 1143v79M331.5 1117v86M332.5 1122v83M333.5 1130v83M334.5 1142v65M335.5 1131v84M336.5 1147v99M337.5 1133v84M338.5 1146v70M339.5 1146v59M340.5 1141v80M341.5 1176v38M342.5 1040v166M343.5 1166v48M344.5 1145v77M345.5 1161v61M346.5 1108v102M347.5 1027v81M348.5 1078v152M349.5 1135v78M350.5 1148v53M351.5 1160v84M352.5 1129v95M353.5 1129v80M354.5 1149v74M355.5 1130v77M356.5 1154v46M357.5 1146v57M358.5 1145v113M359.5 1154v44M360.5 1152v48M361.5 1138v38M362.5 1161v40M363.5 1132v58M364.5 1148v50M365.5 1148v25M366.5 1151v47M367.5 1134v64M368.5 1120v70M369.5 1059v61M370.5 1112v88M371.5 1140v46M372.5 1125v79M373.5 1159v46M374.5 1130v66M375.5 1126v80M376.5 1142v63M377.5 1137v65M378.5 1140v52M379.5 1168v48M380.5 1163v48M381.5 1159v31M382.5 1147v54M383.5 1153v40M384.5 1105v92M385.5 1121v35M386.5 1109v98M387.5 1120v20M388.5 1092v106M389.5 1109v94M390.5 1104v100M391.5 1114v91M392.5 1069v115M393.5 1108v92M394.5 1107v99M395.5 1101v59M396.5 1102v97M397.5 1121v70M398.5 1105v87M399.5 1155v50M400.5 1200v120M401.5 1297v32M402.5 1285v43M403.5 1286v42M404.5 1291v30M405.5 1280v38M406.5 1289v26M407.5 1278v30M408.5 1280v37M409.5 1287v29M410.5 1282v37M411.5 1275v29M412.5 1265v34M413.5 1273v36M414.5 1273v27M415.5 1258v15M416.5 1273v25M417.5 1247v29M418.5 1249v39M419.5 1259v32M420.5 1257v43M421.5 1249v38M422.5 1235v35M423.5 1253v30M424.5 1224v61M425.5 1250v43M426.5 1173v97M427.5 1091v82M428.5 1108v143M429.5 1104v111M430.5 1127v75M431.5 1102v96M432.5 1113v98M433.5 1149v51M434.5 1098v147M435.5 1102v123M436.5 1097v130M437.5 1092v72M438.5 1028v190M439.5 1140v79M440.5 1082v140M441.5 1147v75M442.5 1104v53M443.5 1155v86M444.5 1088v121M445.5 1087v130M446.5 1167v57M447.5 1179v67M448.5 1108v92M449.5 1093v40M450.5 1113v106M451.5 1122v45M452.5 1107v105M453.5 1124v89M454.5 1092v124M455.5 1119v66M456.5 1120v91M457.5 1124v56M458.5 1123v79M459.5 1155v40M460.5 1145v56M461.5 1167v31M462.5 1085v106M463.5 1086v125M464.5 1061v157M465.5 1107v83M466.5 1081v107M467.5 1128v36M468.5 1108v105M469.5 1124v50M470.5 963v170M471.5 1104v44M472.5 1084v125M473.5 1080v96M474.5 1085v126M475.5 1092v78M476.5 1095v105M477.5 1082v127M478.5 1056v136M479.5 1146v62M480.5 1081v112M481.5 1092v111M482.5 1101v91M483.5 1094v100M484.5 1079v104M485.5 990v92M486.5 1050v160M487.5 1079v83M488.5 1085v102M489.5 1057v139M490.5 1085v136M491.5 1142v42M492.5 1085v104M493.5 1100v39M494.5 1056v124M495.5 1045v147M496.5 1111v85M497.5 1122v64M498.5 1053v149M499.5 1042v137M500.5 1091v102M501.5 1096v100M502.5 1142v72M503.5 1118v76M504.5 1075v89M505.5 1075v90M506.5 1098v97M507.5 1096v90M508.5 1071v95M509.5 1067v126M510.5 940v275M511.5 1061v47M512.5 1077v52M513.5 1083v77M514.5 1060v158M515.5 1071v80M516.5 1063v66M517.5 1068v115M518.5 1075v49M519.5 1061v80M520.5 915v200M521.5 1050v159M522.5 1021v186M523.5 1074v141M524.5 1045v173M525.5 1050v112M526.5 1042v136M527.5 1064v55M528.5 1057v67M529.5 1052v115M530.5 1063v90M531.5 1093v81M532.5 1037v96M533.5 1080v32M534.5 1073v97M535.5 1060v124M536.5 1069v104M537.5 1022v76M538.5 1015v95M539.5 1072v80M540.5 1058v78M541.5 1030v72M542.5 870v273M543.5 1014v113M544.5 944v144M545.5 880v124M546.5 986v143M547.5 1012v110M548.5 865v310M549.5 1006v160M550.5 866v278M551.5 982v78M552.5 941v188M553.5 900v59M554.5 943v130M555.5 988v160M556.5 875v217M557.5 1019v139" stroke="#00f" stroke-width="1" fill="none" shape-rendering="crispEdges"/>
<path d="M181.5 866V1402" stroke="#000" stroke-dasharray="1 4" stroke-dashoffset="0" shape-rendering="crispEdges"/>
<path d="M206.5 866V1402" stroke="#000" stroke-dasharray="1 4" stroke-dashoffset="0" shape-rendering="crispEdges"/>
<path d="M231.5 866V1402" stroke="#000" stroke-dasharray="1 4" stroke-dashoffset="0" shape-rendering="crispEdges"/>
<path d="M256.5 866V1402" stroke="#000" stroke-dasharray="1 4" stroke-dashoffset="0" shape-rendering="crispEdges"/>
<path d="M281.5 866V1402" stroke="#000" stroke-dasharray="1 4" stroke-dashoffset="0" shape-rendering="crispEdges"/>
<path d="M306.5 866V1402" stroke="#000" stroke-dasharray="1 4" stroke-dashoffset="0" shape-rendering="crispEdges"/>
<path d="M331.5 866V1402" stroke="#000" stroke-dasharray="1 4" stroke-dashoffset="0" shape-rendering="crispEdges"/>
<path d="M357.5 866V1402" stroke="#000" stroke-dasharray="1 4" stroke-dashoffset="0" shape-rendering="crispEdges"/>
<path d="M382.5 866V1402" stroke="#000" stroke-dasharray="1 4" stroke-dashoffset="0" shape-rendering="crispEdges"/>
<path d="M407.5 866V1402" stroke="#000" stroke-dasharray="1 4" stroke-dashoffset="0" shape-rendering="crispEdges"/>
<path d="M432.5 866V1402" stroke="#000" stroke-dasharray="1 4" stroke-dashoffset="0" shape-rendering="crispEdges"/>
<path d="M457.5 866V1402" stroke="#000" stroke-dasharray="1 4" stroke-dashoffset="0" shape-rendering="crispEdges"/>
<path d="M482.5 866V1402" stroke="#000" stroke-dasharray="1 4" stroke-dashoffset="0" shape-rendering="crispEdges"/>
<path d="M507.5 866V1402" stroke="#000" stroke-dasharray="1 4" stroke-dashoffset="0" shape-rendering="crispEdges"/>
<path d="M532.5 866V1402" stroke="#000" stroke-dasharray="1 4" stroke-dashoffset="0" shape-rendering="crispEdges"/>
<path d="M167 953.5H554" stroke="#000" stroke-dasharray="1 4" stroke-dashoffset="0" shape-rendering="crispEdges"/>
<path d="M167 1043.5H554" stroke="#000" stroke-dasharray="1 4" stroke-dashoffset="0" shape-rendering="crispEdges"/>
<path d="M167 1133.5H554" stroke="#000" stroke-dasharray="1 4" stroke-dashoffset="0" shape-rendering="crispEdges"/>
<path d="M167 1222.5H554" stroke="#000" stroke-dasharray="1 4" stroke-dashoffset="0" shape-rendering="crispEdges"/>
<path d="M167 1312.5H554" stroke="#000" stroke-dasharray="1 4" stroke-dashoffset="0" shape-rendering="crispEdges"/>
<path d="M156 953.5h7M559 953.5h-7M156 1043.5h7M559 1043.5h-7M156 1133.5h7M559 1133.5h-7M156 1222.5h7M559 1222.5h-7M156 1312.5h7M559 1312.5h-7M156 881.5h3M559 881.5h-3M156 899.5h3M559 899.5h-3M156 917.5h3M559 917.5h-3M156 935.5h3M559 935.5h-3M156 953.5h3M559 953.5h-3M156 971.5h3M559 971.5h-3M156 989.5h3M559 989.5h-3M156 1007.5h3M559 1007.5h-3M156 1025.5h3M559 1025.5h-3M156 1043.5h3M559 1043.5h-3M156 1061.5h3M559 1061.5h-3M156 1079.5h3M559 1079.5h-3M156 1097.5h3M559 1097.5h-3M156 1115.5h3M559 1115.5h-3M156 1133.5h3M559 1133.5h-3M156 1150.5h3M559 1150.5h-3M156 1168.5h3M559 1168.5h-3M156 1186.5h3M559 1186.5h-3M156 1204.5h3M559 1204.5h-3M156 1222.5h3M559 1222.5h-3M156 1240.5h3M559 1240.5h-3M156 1258.5h3M559 1258.5h-3M156 1276.5h3M559 1276.5h-3M156 1294.5h3M559 1294.5h-3M156 1312.5h3M559 1312.5h-3M156 1330.5h3M559 1330.5h-3M156 1348.5h3M559 1348.5h-3M156 1366.5h3M559 1366.5h-3M156 1384.5h3M559 1384.5h-3M156.5 864V1403M558.5 864V1403M156 864.5H559M156 1402.5H559" stroke="#000" stroke-width="1" fill="none" shape-rendering="crispEdges"/>
<g fill="#000">
<text x="355.5" y="843.6" text-anchor="middle">20120314 223150 S4 red(150MHz)</text>
<text x="150.5" y="1412.0" text-anchor="end">0</text>
<text x="150.5" y="1322.3" text-anchor="end">0.5</text>
<text x="150.5" y="1232.7" text-anchor="end">1</text>
<text x="150.5" y="1143.0" text-anchor="end">1.5</text>
<text x="150.5" y="1053.3" text-anchor="end">2</text>
<text x="150.5" y="963.7" text-anchor="end">2.5</text>
<text x="150.5" y="874.0" text-anchor="end">3</text>
<text x="0" y="0" text-anchor="middle" transform="translate(99.6,1135.5) rotate(-90)">S4</text>
<text x="382.7" y="1432.5" text-anchor="middle">22:40</text>
<text x="356.0" y="1459.2" text-anchor="middle">UT, from 22:31 to 22:47 UT</text>
</g>
<path d="M704.5 1312v90M705.5 1328v74M706.5 1315v87M707.5 1344v58M708.5 1342v60M709.5 1327v75M710.5 1317v85M711.5 1314v88M712.5 1328v74M713.5 1329v73M714.5 1323v79M715.5 1069v225M716.5 1060v242M717.5 1065v204M718.5 1015v246M719.5 1092v224M720.5 1085v196M721.5 1092v168M722.5 1055v208M723.5 1040v241M724.5 1039v270M725.5 1065v207M726.5 1005v274M727.5 1044v217M728.5 1046v226M729.5 1066v197M730.5 1046v237M731.5 1041v235M732.5 1051v232M733.5 1054v236M734.5 1056v229M735.5 1073v215M736.5 1071v207M737.5 1050v218M738.5 1034v303M739.5 1069v190M740.5 1063v218M741.5 1058v232M742.5 1079v224M743.5 1071v211M744.5 1080v192M745.5 1033v279M746.5 1082v188M747.5 1075v194M748.5 1314v88M749.5 1325v77M750.5 1369v33M751.5 1382v20M752.5 1383v19M753.5 1386v16M754.5 1380v22M755.5 1386v16M756.5 1377v25M757.5 1372v30M758.5 1375v27M759.5 1370v32M760.5 1371v31M761.5 1370v32M762.5 1373v29M763.5 1369v33M764.5 1378v24M765.5 1376v26M766.5 1377v25M767.5 1376v26M768.5 1372v30M769.5 1361v41M770.5 1377v25M771.5 1378v24M772.5 1377v25M773.5 1369v33M774.5 1376v26M775.5 1374v28M776.5 1381v21M777.5 1338v64M778.5 1326v76M779.5 1340v62M780.5 1335v67M781.5 1338v64M782.5 1339v63M783.5 1335v67M784.5 1340v62M785.5 1340v62M786.5 1336v66M787.5 1329v73M788.5 1382v20M789.5 1379v23M790.5 1385v17M791.5 1383v19M792.5 1388v14M793.5 1386v16M794.5 1380v22M795.5 1382v20M796.5 1381v21M797.5 1380v22M798.5 1380v22M799.5 1338v64M800.5 1338v64M801.5 1343v59M802.5 1342v60M803.5 1335v67M804.5 1334v68M805.5 1334v68M806.5 1343v59M807.5 1337v65M808.5 1337v65M809.5 1382v20M810.5 1387v15M811.5 1378v24M812.5 1385v17M813.5 1384v18M814.5 1382v20M815.5 1381v21M816.5 1385v17M817.5 1387v15M818.5 1382v20M819.5 1386v16M820.5 1385v17M821.5 1387v15M822.5 1382v20M823.5 1379v23M824.5 1378v24M825.5 1383v19M826.5 1382v20M827.5 1381v21M828.5 1387v15M829.5 1383v19M830.5 1382v20M831.5 1386v16M832.5 1382v20M833.5 1382v20M834.5 1383v19M835.5 1381v21M836.5 1380v22M837.5 1378v24M838.5 1379v23M839.5 1379v23M840.5 1379v23M841.5 1385v17M842.5 1387v15M843.5 1384v18M844.5 1379v23M845.5 1382v20M846.5 1385v17M847.5 1382v20M848.5 1387v15M849.5 1384v18M850.5 1372v30M851.5 1378v24M852.5 1384v18M853.5 1380v22M854.5 1384v18M855.5 1388v14M856.5 1388v14M857.5 1382v20M858.5 1380v22M859.5 1388v14M860.5 1380v22M861.5 1380v22M862.5 1376v26M863.5 1376v26M864.5 1386v16M865.5 1383v19M866.5 1384v18M867.5 1382v20M868.5 1387v15M869.5 1384v18M870.5 1380v22M871.5 1373v29M872.5 1386v16M873.5 1378v24M874.5 1382v20M875.5 1384v18M876.5 1382v20M877.5 1388v14M878.5 1384v18M879.5 1382v20M880.5 1387v15M881.5 1386v16M882.5 1388v14M883.5 1381v21M884.5 1381v21M885.5 1380v22M886.5 1383v19M887.5 1387v15M888.5 1387v15M889.5 1379v23M890.5 1384v18M891.5 1384v18M892.5 1387v15M893.5 1386v16M894.5 1381v21M895.5 1387v15M896.5 1385v17M897.5 1385v17M898.5 1379v23M899.5 1385v17M900.5 1385v17M901.5 1382v20M902.5 1387v15M903.5 1382v20M904.5 1386v16M905.5 1383v19M906.5 1382v20M907.5 1383v19M908.5 1385v17M909.5 1348v54M910.5 1360v42M911.5 1356v46M912.5 1359v43M913.5 1354v48M914.5 1356v46M915.5 1355v47M916.5 1360v42M917.5 1362v40M918.5 1387v15M919.5 1379v23M920.5 1379v23M921.5 1383v19M922.5 1380v22M923.5 1383v19M924.5 1381v21M925.5 1380v22M926.5 1291v111M927.5 1294v108M928.5 1293v109M929.5 1294v108M930.5 1300v102M931.5 1299v103M932.5 1296v106M933.5 1304v98M934.5 1306v96M935.5 1305v97M936.5 1304v98M937.5 1303v99M938.5 1310v92M939.5 1311v91M940.5 1317v85M941.5 1313v89M942.5 1317v85M943.5 1325v77M944.5 1323v79M945.5 1323v79M946.5 1317v85M947.5 1324v78M948.5 1331v71M949.5 1336v66M950.5 1333v69M951.5 1337v65M952.5 1342v60M953.5 1339v63M954.5 1340v62M955.5 1341v61M956.5 1332v70M957.5 1345v57M958.5 1348v54M959.5 1354v48M960.5 1356v46M961.5 1354v48M962.5 1338v64M963.5 1357v45M964.5 1344v58M965.5 1356v46M966.5 1348v54M967.5 1349v53M968.5 1348v54M969.5 1350v52M970.5 1352v50M971.5 1357v45M972.5 1342v60M973.5 1357v45M974.5 1354v48M975.5 1348v54M976.5 1354v48M977.5 1357v45M978.5 1384v18M979.5 1380v22M980.5 1384v18M981.5 1387v15M982.5 1379v23M983.5 1379v23M984.5 1386v16M985.5 1383v19M986.5 1384v18M987.5 1378v24M988.5 1382v20M989.5 1386v16M990.5 1386v16M991.5 1379v23M992.5 1382v20M993.5 1386v16M994.5 1385v17M995.5 1383v19M996.5 1387v15M997.5 1374v28M998.5 1381v21M999.5 1384v18M1000.5 1381v21M1001.5 1387v15M1002.5 1380v22M1003.5 1381v21M1004.5 1385v17M1005.5 1374v28M1006.5 1386v16M1007.5 1380v22M1008.5 1379v23M1009.5 1381v21M1010.5 1385v17M1011.5 1383v19M1012.5 1385v17M1013.5 1385v17M1014.5 1380v22M1015.5 1382v20M1016.5 1379v23M1017.5 1388v14M1018.5 1381v21M1019.5 1380v22M1020.5 1385v17M1021.5 1370v32M1022.5 1388v14M1023.5 1379v23M1024.5 1383v19M1025.5 1385v17M1026.5 1386v16M1027.5 1387v15M1028.5 1383v19M1029.5 1383v19M1030.5 1385v17M1031.5 1384v18M1032.5 1378v24M1033.5 1386v16M1034.5 1371v31M1035.5 1385v17M1036.5 1385v17M1037.5 1385v17M1038.5 1388v14M1039.5 1378v24M1040.5 1385v17M1041.5 1384v18M1042.5 1387v15M1043.5 1379v23M1044.5 1379v23M1045.5 1382v20M1046.5 1388v14M1047.5 1387v15M1048.5 1387v15M1049.5 1388v14M1050.5 1387v15M1051.5 1380v22M1052.5 1383v19M1053.5 1382v20M1054.5 1384v18M1055.5 1381v21M1056.5 1383v19M1057.5 1385v17M1058.5 1383v19M1059.5 1386v16M1060.5 1373v29M1061.5 1367v35M1062.5 1370v32M1063.5 1368v34M1064.5 1372v30M1065.5 1370v32M1066.5 1380v22M1067.5 1382v20M1068.5 1382v20M1069.5 1385v17M1070.5 1380v22M1071.5 1385v17M1072.5 1384v18M1073.5 1372v30M1074.5 1378v24M1075.5 1383v19M1076.5 1388v14M1077.5 1380v22M1078.5 1379v23M1079.5 1385v17M1080.5 1382v20M1081.5 1383v19M1082.5 1387v15M1083.5 1387v15M1084.5 1382v20M1085.5 1388v14" stroke="#00f" stroke-width="1" fill="none" shape-rendering="crispEdges"/>
<path d="M715.5 1399v3M716.5 1399v3M717.5 1398v4M718.5 1399v3M719.5 1399v3M720.5 1400v2M721.5 1398v4M722.5 1398v4M723.5 1399v3M724.5 1399v3M725.5 1399v3M726.5 1400v2M727.5 1399v3M728.5 1400v2M729.5 1399v3M730.5 1399v3M731.5 1398v4M732.5 1399v3M733.5 1398v4M734.5 1400v2M735.5 1398v4M736.5 1398v4M737.5 1399v3M738.5 1399v3M739.5 1399v3M740.5 1398v4M741.5 1400v2M742.5 1400v2M743.5 1399v3M744.5 1399v3M745.5 1398v4M746.5 1399v3M747.5 1399v3M938.5 1175v126M939.5 1243v78M941.5 1290v51M942.5 1283v63M943.5 1288v53M944.5 1300v43M945.5 1292v54M952.5 1280v57M960.5 1346v27M962.5 1350v21M967.5 1355v18M971.5 1340v27M972.5 1327v40M977.5 1366v13M981.5 1370v11M1079.5 1269v115" stroke="#f00" stroke-width="1" fill="none" shape-rendering="crispEdges"/>
<path d="M709.5 866V1402" stroke="#000" stroke-dasharray="1 4" stroke-dashoffset="0" shape-rendering="crispEdges"/>
<path d="M734.5 866V1402" stroke="#000" stroke-dasharray="1 4" stroke-dashoffset="0" shape-rendering="crispEdges"/>
<path d="M759.5 866V1402" stroke="#000" stroke-dasharray="1 4" stroke-dashoffset="0" shape-rendering="crispEdges"/>
<path d="M784.5 866V1402" stroke="#000" stroke-dasharray="1 4" stroke-dashoffset="0" shape-rendering="crispEdges"/>
<path d="M809.5 866V1402" stroke="#000" stroke-dasharray="1 4" stroke-dashoffset="0" shape-rendering="crispEdges"/>
<path d="M834.5 866V1402" stroke="#000" stroke-dasharray="1 4" stroke-dashoffset="0" shape-rendering="crispEdges"/>
<path d="M859.5 866V1402" stroke="#000" stroke-dasharray="1 4" stroke-dashoffset="0" shape-rendering="crispEdges"/>
<path d="M885.5 866V1402" stroke="#000" stroke-dasharray="1 4" stroke-dashoffset="0" shape-rendering="crispEdges"/>
<path d="M910.5 866V1402" stroke="#000" stroke-dasharray="1 4" stroke-dashoffset="0" shape-rendering="crispEdges"/>
<path d="M935.5 866V1402" stroke="#000" stroke-dasharray="1 4" stroke-dashoffset="0" shape-rendering="crispEdges"/>
<path d="M960.5 866V1402" stroke="#000" stroke-dasharray="1 4" stroke-dashoffset="0" shape-rendering="crispEdges"/>
<path d="M985.5 866V1402" stroke="#000" stroke-dasharray="1 4" stroke-dashoffset="0" shape-rendering="crispEdges"/>
<path d="M1010.5 866V1402" stroke="#000" stroke-dasharray="1 4" stroke-dashoffset="0" shape-rendering="crispEdges"/>
<path d="M1035.5 866V1402" stroke="#000" stroke-dasharray="1 4" stroke-dashoffset="0" shape-rendering="crispEdges"/>
<path d="M1060.5 866V1402" stroke="#000" stroke-dasharray="1 4" stroke-dashoffset="0" shape-rendering="crispEdges"/>
<path d="M695 931.5H1082" stroke="#000" stroke-dasharray="1 4" stroke-dashoffset="0" shape-rendering="crispEdges"/>
<path d="M695 998.5H1082" stroke="#000" stroke-dasharray="1 4" stroke-dashoffset="0" shape-rendering="crispEdges"/>
<path d="M695 1065.5H1082" stroke="#000" stroke-dasharray="1 4" stroke-dashoffset="0" shape-rendering="crispEdges"/>
<path d="M695 1133.5H1082" stroke="#000" stroke-dasharray="1 4" stroke-dashoffset="0" shape-rendering="crispEdges"/>
<path d="M695 1200.5H1082" stroke="#000" stroke-dasharray="1 4" stroke-dashoffset="0" shape-rendering="crispEdges"/>
<path d="M695 1267.5H1082" stroke="#000" stroke-dasharray="1 4" stroke-dashoffset="0" shape-rendering="crispEdges"/>
<path d="M695 1334.5H1082" stroke="#000" stroke-dasharray="1 4" stroke-dashoffset="0" shape-rendering="crispEdges"/>
<path d="M684 931.5h7M1087 931.5h-7M684 998.5h7M1087 998.5h-7M684 1065.5h7M1087 1065.5h-7M684 1133.5h7M1087 1133.5h-7M684 1200.5h7M1087 1200.5h-7M684 1267.5h7M1087 1267.5h-7M684 1334.5h7M1087 1334.5h-7M684 877.5h3M1087 877.5h-3M684 890.5h3M1087 890.5h-3M684 904.5h3M1087 904.5h-3M684 917.5h3M1087 917.5h-3M684 931.5h3M1087 931.5h-3M684 944.5h3M1087 944.5h-3M684 958.5h3M1087 958.5h-3M684 971.5h3M1087 971.5h-3M684 985.5h3M1087 985.5h-3M684 998.5h3M1087 998.5h-3M684 1011.5h3M1087 1011.5h-3M684 1025.5h3M1087 1025.5h-3M684 1038.5h3M1087 1038.5h-3M684 1052.5h3M1087 1052.5h-3M684 1065.5h3M1087 1065.5h-3M684 1079.5h3M1087 1079.5h-3M684 1092.5h3M1087 1092.5h-3M684 1106.5h3M1087 1106.5h-3M684 1119.5h3M1087 1119.5h-3M684 1133.5h3M1087 1133.5h-3M684 1146.5h3M1087 1146.5h-3M684 1159.5h3M1087 1159.5h-3M684 1173.5h3M1087 1173.5h-3M684 1186.5h3M1087 1186.5h-3M684 1200.5h3M1087 1200.5h-3M684 1213.5h3M1087 1213.5h-3M684 1227.5h3M1087 1227.5h-3M684 1240.5h3M1087 1240.5h-3M684 1254.5h3M1087 1254.5h-3M684 1267.5h3M1087 1267.5h-3M684 1280.5h3M1087 1280.5h-3M684 1294.5h3M1087 1294.5h-3M684 1307.5h3M1087 1307.5h-3M684 1321.5h3M1087 1321.5h-3M684 1334.5h3M1087 1334.5h-3M684 1348.5h3M1087 1348.5h-3M684 1361.5h3M1087 1361.5h-3M684 1375.5h3M1087 1375.5h-3M684 1388.5h3M1087 1388.5h-3M684.5 864V1403M1086.5 864V1403M684 864.5H1087M684 1402.5H1087" stroke="#000" stroke-width="1" fill="none" shape-rendering="crispEdges"/>
<g fill="#000">
<text x="883.0" y="843.6" text-anchor="middle">20120314 223150 Amp red(150MHz)</text>
<text x="678.5" y="1411.7" text-anchor="end">0</text>
<text x="678.5" y="1344.5" text-anchor="end">5</text>
<text x="678.5" y="1277.2" text-anchor="end">10</text>
<text x="678.5" y="1210.0" text-anchor="end">15</text>
<text x="678.5" y="1142.7" text-anchor="end">20</text>
<text x="678.5" y="1075.5" text-anchor="end">25</text>
<text x="678.5" y="1008.2" text-anchor="end">30</text>
<text x="678.5" y="941.0" text-anchor="end">35</text>
<text x="678.5" y="873.7" text-anchor="end">40</text>
<text x="0" y="0" text-anchor="middle" transform="translate(634.5,1133.8) rotate(-90)">Amp</text>
<text x="910.6" y="1432.9" text-anchor="middle">22:40</text>
<text x="883.6" y="1459.2" text-anchor="middle">UT, from 22:31 to 22:47 UT</text>
</g>
</svg></body></html>
